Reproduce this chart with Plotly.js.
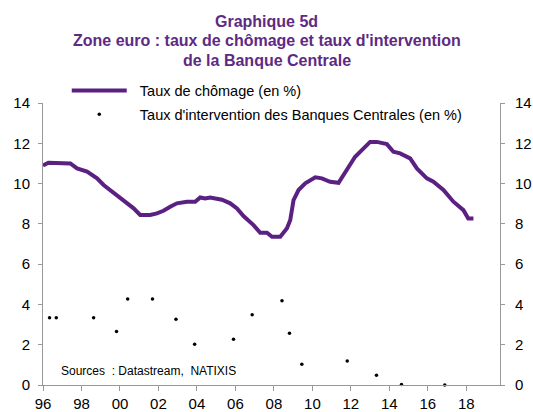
<!DOCTYPE html>
<html>
<head>
<meta charset="utf-8">
<script src="https://cdn.plot.ly/plotly-3.0.1.min.js"></script>
<style>html,body{margin:0;padding:0;background:#fff;}#chart{width:533px;height:412px;}</style>
</head>
<body>
<div id="chart"></div>
<script>
// Taux de chômage (en %)
const chomageDates = [1996.0, 1996.28, 1997.42, 1997.77, 1998.29, 1998.81, 1999.15, 1999.5, 1999.93, 2000.36, 2000.71, 2001.05, 2001.57, 2001.92, 2002.26, 2002.61, 2002.96, 2003.48, 2003.91, 2004.17, 2004.43, 2004.69, 2005.3, 2005.73, 2006.08, 2006.42, 2006.94, 2007.29, 2007.64, 2007.9, 2008.33, 2008.68, 2008.85, 2009.02, 2009.28, 2009.63, 2010.15, 2010.49, 2010.92, 2011.36, 2011.79, 2012.22, 2012.57, 2013.0, 2013.35, 2013.87, 2014.21, 2014.56, 2015.08, 2015.43, 2015.95, 2016.29, 2016.81, 2017.33, 2017.85, 2018.1, 2018.37];
const chomage = [10.9, 11.03, 11.0, 10.75, 10.6, 10.26, 9.93, 9.68, 9.35, 9.02, 8.77, 8.44, 8.44, 8.52, 8.65, 8.85, 9.02, 9.1, 9.1, 9.31, 9.26, 9.31, 9.2, 9.02, 8.77, 8.39, 7.94, 7.56, 7.56, 7.36, 7.36, 7.78, 8.19, 9.18, 9.68, 10.01, 10.31, 10.26, 10.09, 10.04, 10.67, 11.33, 11.66, 12.07, 12.07, 11.96, 11.58, 11.5, 11.25, 10.75, 10.26, 10.09, 9.68, 9.1, 8.68, 8.27, 8.27];

// Taux d'intervention des Banques Centrales (en %)
const tauxDates = [1996.34, 1996.69, 1998.63, 1999.82, 2000.4, 2001.69, 2002.91, 2003.88, 2005.9, 2006.87, 2008.42, 2008.81, 2009.45, 2011.81, 2013.33, 2014.63, 2016.88];
const taux = [3.34, 3.34, 3.34, 2.65, 4.27, 4.27, 3.26, 2.02, 2.27, 3.49, 4.18, 2.57, 1.03, 1.19, 0.48, 0.02, 0.0];

const xTickVals = [1996, 1998, 2000, 2002, 2004, 2006, 2008, 2010, 2012, 2014, 2016, 2018];
const xTickText = ['96', '98', '00', '02', '04', '06', '08', '10', '12', '14', '16', '18'];
const yTickVals = [0, 2, 4, 6, 8, 10, 12, 14];

const titleLines = ['Graphique 5d', 'Zone euro : taux de chômage et taux d\'intervention', 'de la Banque Centrale'];
const sourceText = 'Sources  : Datastream,  NATIXIS';

const FONT = '"Liberation Sans", Arial, sans-serif';
const PURPLE = '#5B2182';
const TITLE_PURPLE = '#5E2A84';
const NB = '\u00a0\u00a0';

const traces = [
  {
    x: chomageDates, y: chomage, type: 'scatter', mode: 'lines',
    name: NB + 'Taux de chômage (en %)', legendgroup: 'a',
    line: {color: PURPLE, width: 4},
    xaxis: 'x', yaxis: 'y'
  },
  {
    x: tauxDates, y: taux, type: 'scatter', mode: 'markers',
    name: NB + "Taux d'intervention des Banques Centrales (en %)", legendgroup: 'b',
    marker: {color: '#000', size: 3.5},
    xaxis: 'x', yaxis: 'y2', cliponaxis: false
  }
];

const axisCommon = {
  range: [0, 14], tickvals: yTickVals, showgrid: false, zeroline: false,
  showline: true, linecolor: '#999', linewidth: 1,
  ticks: 'outside', ticklen: 4, tickcolor: '#999',
  tickfont: {family: FONT, size: 15, color: '#000'},
  fixedrange: true
};

const titleY = [1.2894, 1.2203, 1.1513];
const annotations = titleLines.map((t, i) => ({
  text: t, xref: 'paper', yref: 'paper', x: 0.4895, y: titleY[i],
  xanchor: 'center', yanchor: 'middle', showarrow: false,
  font: {family: FONT, size: 16, color: TITLE_PURPLE, weight: 'bold'}
}));
annotations.push({
  text: sourceText, xref: 'paper', yref: 'paper',
  x: 0.035, y: 0.048, xanchor: 'left', yanchor: 'middle', showarrow: false,
  font: {family: FONT, size: 12, color: '#000'}
});

const layout = {
  width: 533, height: 412,
  margin: {l: 43, r: 33, t: 103, b: 27, pad: 0},
  paper_bgcolor: '#fff', plot_bgcolor: '#fff',
  font: {family: FONT, color: '#000'},
  xaxis: {
    range: [1996, 2019.75], tickvals: xTickVals, ticktext: xTickText,
    showgrid: false, zeroline: false, showline: true, linecolor: '#999', linewidth: 1,
    ticks: 'outside', ticklen: 5, tickcolor: '#999',
    tickfont: {family: FONT, size: 15, color: '#000'},
    ticklabelstandoff: 0, fixedrange: true
  },
  yaxis: Object.assign({}, axisCommon, {side: 'left', ticklabelstandoff: 5}),
  yaxis2: Object.assign({}, axisCommon, {side: 'right', overlaying: 'y', ticklabelstandoff: 7}),
  showlegend: true,
  legend: {
    x: 0.052, xanchor: 'left', y: 1.101, yanchor: 'top',
    bgcolor: 'rgba(0,0,0,0)', borderwidth: 0,
    font: {family: FONT, size: 14.5, color: '#000'},
    itemwidth: 55, tracegroupgap: 2
  },
  annotations: annotations
};

Plotly.newPlot('chart', traces, layout, {displayModeBar: false, staticPlot: true});
</script>
</body>
</html>
